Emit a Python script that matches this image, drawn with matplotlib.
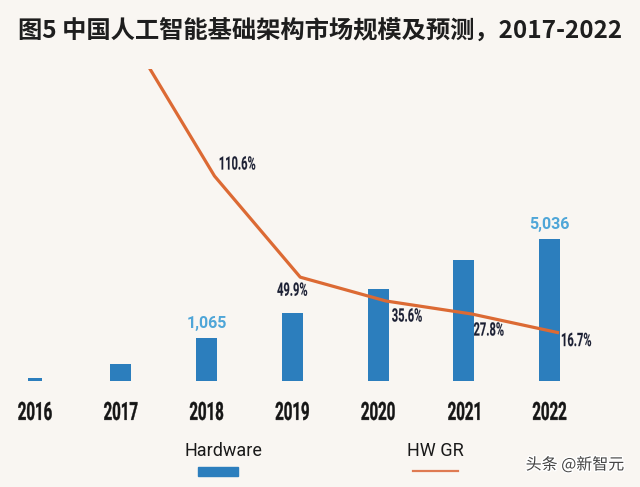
import numpy as np
import matplotlib
matplotlib.use("Agg")
import matplotlib.pyplot as plt
from matplotlib.patches import Rectangle, PathPatch
from matplotlib.lines import Line2D
from matplotlib.textpath import TextPath
from matplotlib.font_manager import FontProperties
from matplotlib.transforms import Affine2D
import matplotlib.patheffects as pe

# Datos del gráfico
years = ["2016", "2017", "2018", "2019", "2020", "2021", "2022"]
hardware = [106, 600, 1525, 2410, 3260, 4290, 5036]
hw_gr = [None, 196.0, 110.6, 49.9, 35.6, 27.8, 16.7]
gr_labels = ["", "", "110.6%", "49.9%", "35.6%", "27.8%", "16.7%"]
bar_labels = {"2018": "1,065", "2022": "5,036"}

title = "图5 中国人工智能基础架构市场规模及预测，2017-2022"
legend_names = ["Hardware", "HW GR"]
watermark = "头条 @新智元"

BG = "#f9f6f2"
BLUE = "#2c7ebd"
LIGHT_BLUE = "#4fa6d8"
ORANGE = "#dc6a34"
NAVY = "#1b1f33"
W, H = 640, 487

fig = plt.figure(figsize=(6.4, 4.87), dpi=100, facecolor=BG)
cond_font = FontProperties(family="Roboto", weight="bold")


def fx(px):
    return px / W


def fy(py):
    return 1 - py / H


# Texto condensado: ruta de texto comprimida horizontalmente (en píxeles)
def cond_text(cx, cy, s, size, sx, color, stroke=0.0):
    tp = TextPath((0, 0), s, size=size, prop=cond_font)
    bb = tp.get_extents()
    ref = TextPath((0, 0), "0", size=size, prop=cond_font).get_extents()
    tr = (Affine2D().translate(-(bb.x0 + bb.x1) / 2, -(ref.y0 + ref.y1) / 2)
          .scale(sx, 1).translate(cx, H - cy))
    fig.patches.append(PathPatch(tp, transform=tr, facecolor=color, edgecolor=color,
                                 linewidth=stroke, figure=fig))


ax = fig.add_axes([0, fy(381), 1, 312 / H])
ax.set_facecolor("none")
x = np.arange(len(years))
widths = [0.16] + [0.245] * (len(years) - 1)
bars = ax.bar(x, hardware, width=widths, color=BLUE, zorder=2)
ax.set_xlim(-0.408, 7.055)
ax.set_ylim(0, 11065)
ax.axis("off")

# Etiquetas de valor sobre algunas barras
for bar, yr in zip(bars, years):
    if yr in bar_labels:
        ax.annotate(bar_labels[yr], xy=(bar.get_x() + bar.get_width() / 2, bar.get_height()),
                    xytext=(0, 5), textcoords="offset points", ha="center", va="bottom",
                    fontsize=11.5, fontweight="bold", family="Roboto", color=LIGHT_BLUE)

# Línea de tasa de crecimiento (eje secundario)
ax2 = ax.twinx()
ax2.set_ylim(-12.4, 174.8)
ax2.axis("off")
gx = [xi + 0.093 for xi, v in zip(x, hw_gr) if v is not None]
gy = [v for v in hw_gr if v is not None]
ax2.plot(gx, gy, color=ORANGE, lw=2.3, zorder=3)

fig.canvas.draw()
offsets = [(0, 0), (0, 0), (23, -13), (-8, 12), (21, 14), (17, 15), (19, 7)]
for xi, v, lab, off in zip(x, hw_gr, gr_labels, offsets):
    if lab:
        px, py = ax2.transData.transform((xi + 0.093, v))
        cond_text(px + off[0], H - py + off[1], lab, 18.5, 0.6, NAVY, 0.1)

# Años en el eje x
for xi, yr in zip(x, years):
    px, _ = ax.transData.transform((xi, 0))
    cond_text(px, 411, yr, 25, 0.6, "#151515", 0.3)

# Título
fig.text(fx(320), fy(32), title, ha="center", va="center", fontsize=17.5, fontweight="bold",
         family=["Noto Sans CJK SC", "DejaVu Sans"], color="#1e1e1e")

# Leyenda manual
fig.text(fx(223), fy(451), legend_names[0], ha="center", va="center", fontsize=13,
         family="Roboto", color="#1a1a1a")
fig.patches.append(Rectangle((fx(198), fy(476)), fx(40), 9 / H, color=BLUE,
                             transform=fig.transFigure, figure=fig))
fig.text(fx(435), fy(451), legend_names[1], ha="center", va="center", fontsize=13,
         family="Roboto", color="#1a1a1a")
fig.lines.append(Line2D([fx(413), fx(458)], [fy(471), fy(471)], color="#df7a52", lw=1.6,
                        transform=fig.transFigure, figure=fig))

# Marca de agua
fig.text(fx(575), fy(465), watermark, ha="center", va="center", fontsize=11.5,
         family=["Noto Sans CJK SC", "DejaVu Sans"], color="#444444",
         path_effects=[pe.withStroke(linewidth=2, foreground="white")])

fig.savefig("out.png", dpi=100, facecolor=BG)
